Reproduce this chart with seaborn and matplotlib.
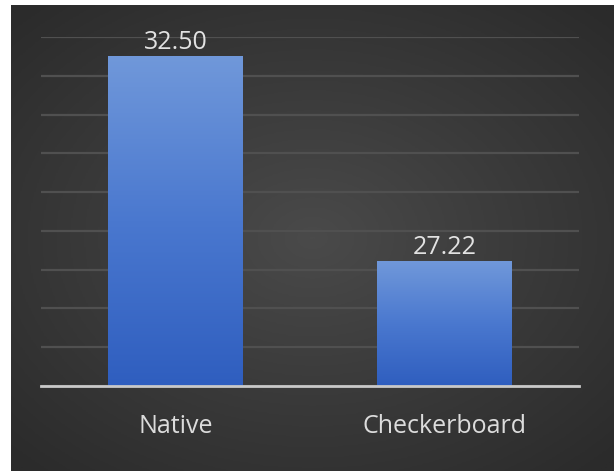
import numpy as np
import pandas as pd
import matplotlib
matplotlib.use("Agg")
import matplotlib.pyplot as plt
from matplotlib.colors import LinearSegmentedColormap
import seaborn as sns

# Frame rates for the two rendering modes
categories = ["Native", "Checkerboard"]
fps = [32.50, 27.22]
value_labels = ["32.50", "27.22"]

sns.set_theme(style="dark")
plt.rcParams["font.family"] = ["Open Sans", "DejaVu Sans"]

W, H, DPI = 614, 472, 100
fig = plt.figure(figsize=(W / DPI, H / DPI), dpi=DPI, facecolor="white")

# Dark panel with a soft radial glow behind the chart
bg = fig.add_axes([11 / W, 1 / H, (W - 11) / W, (H - 6) / H])
bg.set_axis_off()
yy, xx = np.mgrid[-1:1:300j, -1:1:400j]
r = np.sqrt((xx / 1.05) ** 2 + (yy / 1.0) ** 2)
glow = LinearSegmentedColormap.from_list("glow", ["#4a4a4a", "#3a3a3a", "#2b2b2b"])
bg.imshow(np.clip(r, 0, 1.35), cmap=glow, aspect="auto", extent=[0, 1, 0, 1])
bg.set_xlim(0, 1)
bg.set_ylim(0, 1)

ax = fig.add_axes([41 / W, (H - 386) / H, 538 / W, (386 - 37) / H])
ax.set_facecolor("none")

df = pd.DataFrame({"mode": categories, "fps": fps})
sns.barplot(data=df, x="mode", y="fps", width=0.5, color="#4a78cc", ax=ax,
            saturation=1, zorder=3)

ax.set_ylim(24, 33)
ax.set_xlim(-0.5, 1.5)
ax.set_yticks(np.arange(24, 34, 1))
ax.yaxis.grid(True, color="#505050", linewidth=1.6)
ax.xaxis.grid(False)
ax.set_axisbelow(True)
ax.tick_params(axis="y", left=False, labelleft=False)
ax.tick_params(axis="x", bottom=False, pad=14, labelsize=18, labelcolor="#dcdcdc")
ax.set_xlabel("")
ax.set_ylabel("")
for side in ["top", "right", "left"]:
    ax.spines[side].set_visible(False)
ax.spines["bottom"].set_visible(True)
ax.spines["bottom"].set_color("#c9c9c9")
ax.spines["bottom"].set_linewidth(2)
ax.spines["bottom"].set_zorder(5)

# Vertical gradient fill for every bar
bar_cmap = LinearSegmentedColormap.from_list("bar", ["#2f5ebf", "#4a78cf", "#7098da"])
grad = np.linspace(0, 1, 256).reshape(-1, 1)
for patch, label in zip(ax.patches, value_labels):
    x0, y0 = patch.get_x(), patch.get_y()
    w, h = patch.get_width(), patch.get_height()
    patch.set_facecolor("none")
    patch.set_edgecolor("none")
    top = y0 + h
    im = ax.imshow(grad, cmap=bar_cmap, aspect="auto", origin="lower",
                   extent=[x0, x0 + w, ax.get_ylim()[0], top], zorder=3)
    im.set_clip_path(patch)
    ax.annotate(label, (x0 + w / 2, top), xytext=(0, 1), textcoords="offset points",
                ha="center", va="bottom", fontsize=18, color="#e2e2e2", zorder=6)

ax.set_xlim(-0.5, 1.5)
ax.set_ylim(24, 33)

fig.savefig("out.png", dpi=DPI, facecolor=fig.get_facecolor())
